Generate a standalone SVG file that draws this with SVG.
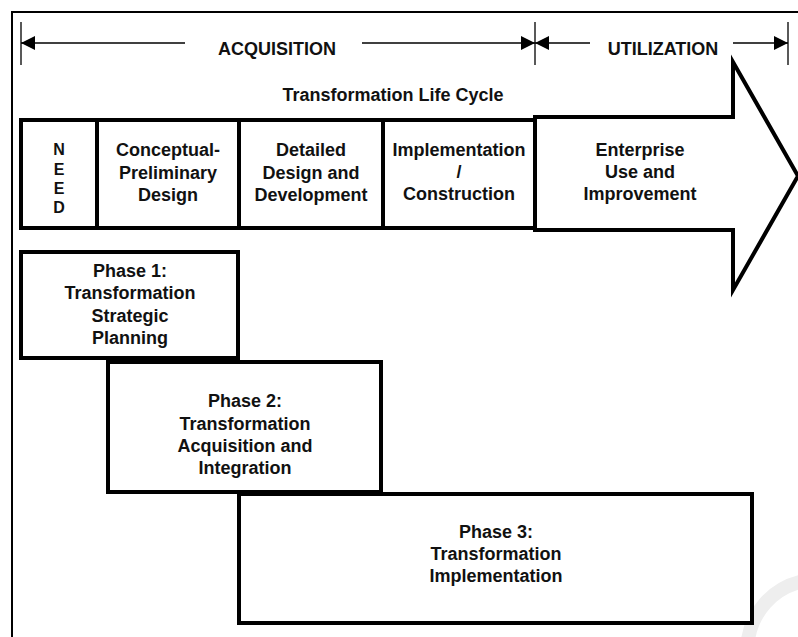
<svg xmlns="http://www.w3.org/2000/svg" width="798" height="637" viewBox="0 0 798 637">
  <defs>
    <marker id="tri" viewBox="0 0 14 14" refX="14" refY="7" markerWidth="14" markerHeight="14" markerUnits="userSpaceOnUse" orient="auto">
      <path d="M0,0 L14,7 L0,14 Z" fill="#000"/>
    </marker>
    <style>
      text { font-family: "Liberation Sans", Arial, sans-serif; font-weight: bold; fill: #111; text-anchor: middle; }
      .t18 { font-size: 18px; }
      .t16 { font-size: 16px; }
      .box { fill: #fff; stroke: #000; stroke-width: 4; stroke-linejoin: miter; }
      .dim { stroke: #000; stroke-width: 1.5; fill: none; }
      .tick { stroke: #222; stroke-width: 1.5; }
    </style>
  </defs>

  <rect x="0" y="0" width="798" height="637" fill="#fff"/>

  <!-- faint background ring at lower right -->
  <path d="M748,640 A70,70 0 0 1 800,582" fill="none" stroke="#eeeeee" stroke-width="14"/>

  <!-- outer frame (top and left edges) -->
  <g id="frame" stroke="#000" stroke-width="2" fill="none">
    <line x1="11" y1="12" x2="798" y2="12"/>
    <line x1="12" y1="12" x2="12" y2="637"/>
  </g>

  <!-- span dimensions -->
  <g id="connectors">
    <line class="tick" x1="21" y1="22" x2="21" y2="65"/>
    <line class="tick" x1="535" y1="22" x2="535" y2="65"/>
    <line class="tick" x1="788" y1="22" x2="788" y2="65"/>
    <line class="dim" x1="185" y1="43" x2="21" y2="43" marker-end="url(#tri)"/>
    <line class="dim" x1="362" y1="43" x2="535" y2="43" marker-end="url(#tri)"/>
    <line class="dim" x1="590" y1="43" x2="535" y2="43" marker-end="url(#tri)"/>
    <line class="dim" x1="733" y1="43" x2="788" y2="43" marker-end="url(#tri)"/>
  </g>
  <g id="acquisition"><text class="t18" x="277" y="55">ACQUISITION</text></g>
  <g id="utilization"><text class="t18" x="663" y="55">UTILIZATION</text></g>

  <g id="life-cycle-title"><text class="t18" x="393" y="101">Transformation Life Cycle</text></g>

  <!-- life cycle stages -->
  <g id="enterprise">
    <polygon class="box" points="535,117 733,117 733,62 798,176 733,290 733,230 535,230"/>
    <text class="t18" x="640" y="156">Enterprise</text>
    <text class="t18" x="640" y="178">Use and</text>
    <text class="t18" x="640" y="200">Improvement</text>
  </g>
  <g id="need">
    <rect class="box" x="21" y="120" width="76" height="108"/>
    <text class="t16" x="59" y="155">N</text>
    <text class="t16" x="59" y="175">E</text>
    <text class="t16" x="59" y="194">E</text>
    <text class="t16" x="59" y="213">D</text>
  </g>
  <g id="conceptual">
    <rect class="box" x="97" y="120" width="142" height="108"/>
    <text class="t18" x="168" y="156">Conceptual-</text>
    <text class="t18" x="168" y="179">Preliminary</text>
    <text class="t18" x="168" y="201">Design</text>
  </g>
  <g id="detailed">
    <rect class="box" x="239" y="120" width="144" height="108"/>
    <text class="t18" x="311" y="156">Detailed</text>
    <text class="t18" x="311" y="179">Design and</text>
    <text class="t18" x="311" y="201">Development</text>
  </g>
  <g id="implementation">
    <rect class="box" x="383" y="120" width="152" height="108"/>
    <text class="t18" x="459" y="156">Implementation</text>
    <text class="t18" x="459" y="178">/</text>
    <text class="t18" x="459" y="200">Construction</text>
  </g>

  <!-- phases -->
  <g id="phase1">
    <rect class="box" x="21" y="252" width="217" height="106"/>
    <text class="t18" x="130" y="277">Phase 1:</text>
    <text class="t18" x="130" y="299">Transformation</text>
    <text class="t18" x="130" y="322">Strategic</text>
    <text class="t18" x="130" y="344">Planning</text>
  </g>
  <g id="phase2">
    <rect class="box" x="108" y="362" width="273" height="130"/>
    <text class="t18" x="245" y="407">Phase 2:</text>
    <text class="t18" x="245" y="430">Transformation</text>
    <text class="t18" x="245" y="452">Acquisition and</text>
    <text class="t18" x="245" y="474">Integration</text>
  </g>
  <g id="phase3">
    <rect class="box" x="239" y="494" width="513" height="129"/>
    <text class="t18" x="496" y="538">Phase 3:</text>
    <text class="t18" x="496" y="560">Transformation</text>
    <text class="t18" x="496" y="582">Implementation</text>
  </g>
</svg>
